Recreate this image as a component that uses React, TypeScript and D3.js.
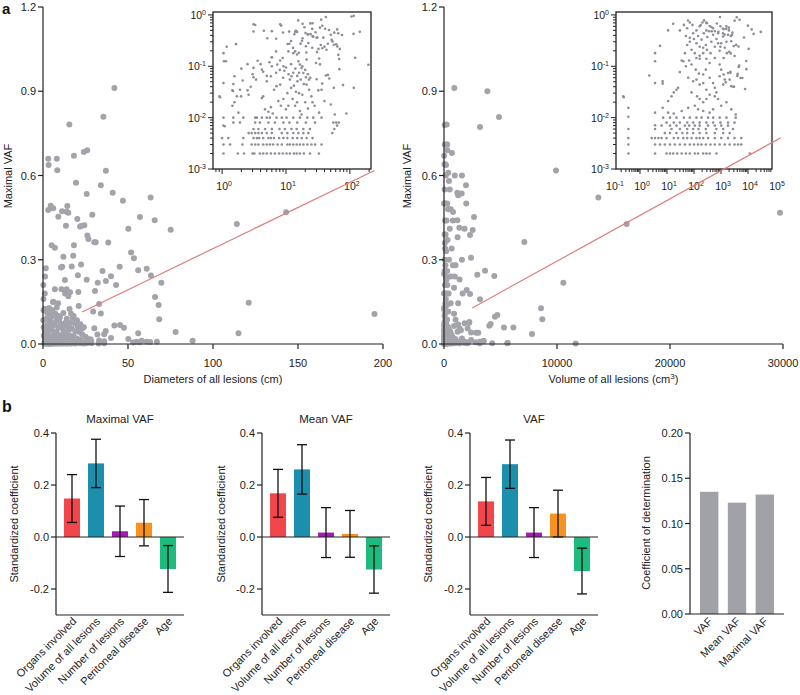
import React from "react";
import * as d3 from "d3";

const FONT = "'Liberation Sans', Arial, Helvetica, sans-serif";

// ---------- Panel a data: [diameter (cm), maximal VAF] ----------
const DIAMETER_VAF: [number, number][] = [
  [42, 0.912], [35.5, 0.809], [15.5, 0.782], [26, 0.69], [24, 0.684], [18.2, 0.67], [3.3, 0.637], [8.4, 0.619],
  [37, 0.617], [19.4, 0.574], [34, 0.565], [41, 0.539], [25.7, 0.534], [63.3, 0.522], [4.5, 0.492], [6, 0.483],
  [3.1, 0.477], [11.2, 0.473], [13.9, 0.471], [14.9, 0.467], [14.3, 0.491], [20.2, 0.445], [57, 0.452], [65.7, 0.441],
  [9, 0.453], [13.5, 0.421], [21.8, 0.418], [24.3, 0.423], [50.2, 0.41], [75.1, 0.407], [26.1, 0.386], [26.7, 0.374],
  [30.2, 0.362], [31, 0.362], [38.4, 0.361], [5.1, 0.352], [7, 0.343], [18.2, 0.352], [12, 0.311], [17.8, 0.314],
  [51.8, 0.326], [53.5, 0.305], [10.6, 0.272], [16.9, 0.276], [45.1, 0.275], [56, 0.263], [61, 0.268], [63.5, 0.244],
  [12.9, 0.228], [25.7, 0.229], [32.2, 0.218], [37, 0.224], [40, 0.241], [69.6, 0.218], [13.9, 0.195], [15.9, 0.184],
  [20.8, 0.185], [30.6, 0.189], [65.9, 0.167], [114, 0.427], [143, 0.469], [121, 0.147], [195, 0.107], [115, 0.038],
  [68, 0.139], [68.4, 0.088], [33, 0.142], [34, 0.109], [78, 0.043], [88, 0.012], [56, 0.038], [45.3, 0.068],
  [47.6, 0.058], [42, 0.066], [36.9, 0.046], [30.2, 0.056], [32, 0.034], [50.2, 0.018], [55, 0.008], [61, 0.008],
  [67, 0.008], [106, 0.93], [115, 0.96],
  [1.05, 0.18], [1.18, 0.24], [1.65, 0.27], [0.2, 0.085], [0.3, 0.12], [0.4, 0.06], [0.5, 0.03], [0.2, 0.21],
  [0.3, 0.16], [6, 0.15], [7, 0.195], [11.3, 0.275], [20.5, 0.245], [22.4, 0.283], [1.07, 0.125], [1.15, 0.125],
  [3.1, 0.66], [8.1, 0.66], [29, 0.46], [22.5, 0.42], [47, 0.51], [35, 0.26], [43, 0.21],
  // 0.002 row
  [1.05, 0.002], [1.76, 0.002], [2.2, 0.002], [3, 0.002], [3.2, 0.002], [3.9, 0.002], [4.4, 0.002], [5, 0.002],
  [5.8, 0.002], [6.7, 0.002], [7.8, 0.002], [8.9, 0.002], [10.2, 0.002], [11.5, 0.002], [13.3, 0.002], [14.7, 0.002],
  [16.5, 0.002], [19, 0.002], [23.7, 0.002], [32.7, 0.002],
  // 0.003 row
  [1.05, 0.003], [1.33, 0.003], [2.08, 0.003], [2.9, 0.003], [3.3, 0.003], [3.7, 0.003], [4.4, 0.003], [5, 0.003],
  [5.6, 0.003], [6.3, 0.003], [7.4, 0.003], [8.6, 0.003], [10.5, 0.003], [11.5, 0.003], [13, 0.003], [14.7, 0.003],
  [16.5, 0.003], [18.7, 0.003], [21.6, 0.003], [25, 0.003], [28.5, 0.003], [36, 0.003],
  // 0.004 row
  [1, 0.004], [1.25, 0.004], [2.15, 0.004], [3.1, 0.004], [3.5, 0.004], [3.8, 0.004], [4.4, 0.004], [5.3, 0.004],
  [5.8, 0.004], [6.5, 0.004], [7.8, 0.004], [9.1, 0.004], [10.5, 0.004], [12.7, 0.004], [15, 0.004], [17.6, 0.004],
  [21, 0.004], [26, 0.004],
  // 0.005 row
  [2.6, 0.005], [2.9, 0.005], [3.3, 0.005], [3.7, 0.005], [4.2, 0.005], [5, 0.005], [6, 0.005], [8.6, 0.005],
  [10.5, 0.005], [13, 0.005], [15.6, 0.005], [18.7, 0.005], [22.4, 0.005], [53, 0.005],
  // 0.006 row
  [3.1, 0.006], [3.7, 0.006], [4.7, 0.006], [6, 0.006], [7.9, 0.006], [9.6, 0.006], [12.2, 0.006], [14.7, 0.006],
  [18.7, 0.006], [23.7, 0.006], [57, 0.006],
  // 0.007-0.008 rows
  [1.05, 0.007], [1.1, 0.0068], [63, 0.007], [1.5, 0.008], [1.9, 0.008], [3.3, 0.008], [3.9, 0.008], [5.3, 0.008],
  [6.7, 0.008], [9.1, 0.008], [11.3, 0.008], [15, 0.008], [20.5, 0.008], [28.4, 0.008],
  // 0.01 row
  [1.05, 0.01], [1.5, 0.01], [2.15, 0.01], [3.3, 0.01], [3.5, 0.01], [4.2, 0.01], [5, 0.01], [5.6, 0.01],
  [7.1, 0.01], [8.6, 0.01], [10.2, 0.01], [13, 0.01], [16.5, 0.01], [21.6, 0.01], [26.7, 0.01], [36, 0.01],
  // scattered 0.01 - 0.15
  [1.05, 0.047], [1.56, 0.064], [1.45, 0.017], [1.56, 0.02], [1.7, 0.026], [1.8, 0.0125], [1.98, 0.026], [2.1, 0.053],
  [2.5, 0.034], [2.6, 0.028], [1.9, 0.035], [3.1, 0.093], [3.1, 0.061], [3.4, 0.055], [3.6, 0.128], [4.2, 0.086],
  [4.4, 0.078], [5, 0.051], [5.8, 0.064], [4.2, 0.024], [4.4, 0.026], [4.7, 0.0145], [5.3, 0.013], [5.8, 0.016],
  [6.2, 0.012], [7.1, 0.041], [8.1, 0.044], [7.3, 0.108], [8.1, 0.13], [8.9, 0.145], [9.1, 0.1], [9.4, 0.082],
  [7.6, 0.021], [8.3, 0.017], [9.1, 0.023], [10, 0.0145], [10.9, 0.017], [15.6, 0.125], [11.5, 0.055], [12.2, 0.064],
  [13.3, 0.042], [14.3, 0.032], [15.1, 0.051], [12.7, 0.023], [13.9, 0.017], [14.9, 0.02], [16.5, 0.0135], [17.5, 0.0115],
  [16.5, 0.108], [17.5, 0.093], [18.7, 0.074], [20.5, 0.061], [21, 0.044], [22.9, 0.055], [21, 0.135], [29.5, 0.116],
  [25, 0.026], [28, 0.017], [0.91, 0.026], [0.93, 0.025], [1.45, 0.034], [1.48, 0.033], [33, 0.0125], [40, 0.021],
  [58, 0.0115], [36, 0.035], [6, 0.15], [10.9, 0.195], [13, 0.18], [14.9, 0.17], [2.5, 0.11], [5.5, 0.12],
  [2, 0.09], [4, 0.11], [6, 0.1], [8, 0.085], [10, 0.095], [12, 0.11], [14, 0.09], [16, 0.075], [18, 0.1],
  [20, 0.085], [22, 0.07], [24, 0.06], [3, 0.07], [5, 0.065], [7, 0.075], [9, 0.06], [11, 0.07], [13, 0.075],
  [15, 0.065], [17, 0.055], [19, 0.045], [23, 0.035], [26, 0.02], [1.5, 0.045], [2.8, 0.04], [6.5, 0.035],
  [10.5, 0.03], [12, 0.038], [16, 0.03], [18, 0.028], [20, 0.02], [22, 0.015],
];

// ---------- Panel a data: [volume (cm3), maximal VAF] ----------
const VOLUME_VAF: [number, number][] = [
  [915, 0.912], [3835, 0.9], [4868, 0.808], [3186, 0.773], [9912, 0.618], [13659, 0.522], [1947, 0.565], [2655, 0.452],
  [2537, 0.406], [2301, 0.388], [16166, 0.427], [29736, 0.467], [7110, 0.363], [2390, 0.307], [10561, 0.218], [3629, 0.261],
  [4455, 0.242], [2950, 0.247], [2006, 0.192], [2301, 0.178], [3186, 0.159], [4513, 0.097], [4720, 0.103], [8584, 0.127],
  [8702, 0.088], [5310, 0.059], [6136, 0.059], [7788, 0.036], [4012, 0.065], [4130, 0.071], [3038, 0.04], [2242, 0.078],
  [11652, 0.002], [1564, 0.536], [1180, 0.539], [1357, 0.414], [1180, 0.441], [2832, 0.04], [2212, 0.075],
  // upper points near the axis
  [11, 0.5], [17, 0.67], [30, 0.5], [42, 0.64], [56, 0.55], [70, 0.71], [88, 0.64], [123, 0.5], [162, 0.6], [205, 0.71],
  [288, 0.71], [380, 0.61], [510, 0.55], [950, 0.6], [1250, 0.53], [1590, 0.6], [1970, 0.5], [60, 0.78], [300, 0.69],
  [700, 0.68], [450, 0.48], [800, 0.47], [236, 0.782], [177, 0.637],
  // mid cloud
  [35, 0.13], [46, 0.18], [56, 0.26], [70, 0.3], [81, 0.21], [100, 0.34], [123, 0.28], [141, 0.39], [162, 0.24],
  [190, 0.33], [230, 0.44], [275, 0.26], [310, 0.37], [360, 0.48], [440, 0.3], [510, 0.41], [590, 0.24], [680, 0.34],
  [780, 0.44], [890, 0.2], [1020, 0.28], [1200, 0.38], [1380, 0.23], [1590, 0.3], [1820, 0.41], [162, 0.14], [107, 0.18],
  [70, 0.36], [50, 0.39], [410, 0.18], [590, 0.145], [1250, 0.145], [1650, 0.18], [300, 0.21], [780, 0.28], [950, 0.24],
  [219, 0.23], [590, 0.48], [288, 0.5], [440, 0.58], [93, 0.44], [5.5, 0.25], [3.6, 0.18], [3.6, 0.125],
  // low left columns
  [0.37, 0.0155], [0.37, 0.0104], [0.37, 0.006], [0.37, 0.004], [0.37, 0.003], [0.37, 0.002], [0.24, 0.026], [0.25, 0.025],
  [3.6, 0.047], [3.6, 0.0125], [3.6, 0.0071], [3.6, 0.006], [3.6, 0.004], [3.6, 0.003], [3.6, 0.002], [2.2, 0.066],
  [6.9, 0.046], [6.9, 0.051],
  // 0.002 row
  [9.6, 0.002], [12.9, 0.002], [17, 0.002], [24, 0.002], [35, 0.002], [50, 0.002], [70, 0.002], [107, 0.002],
  [141, 0.002], [219, 0.002], [288, 0.002], [380, 0.002], [676, 0.002],
  // 0.003 row
  [5.5, 0.003], [8.3, 0.003], [12.9, 0.003], [19.5, 0.003], [30, 0.003], [46, 0.003], [70, 0.003], [100, 0.003],
  [141, 0.003], [190, 0.003], [275, 0.003], [407, 0.003], [589, 0.003], [891, 0.003], [1380, 0.003], [2090, 0.003],
  [3160, 0.003], [4270, 0.003], [5620, 0.003],
  // 0.004 row
  [2.7, 0.004], [4.8, 0.004], [6.3, 0.004], [9.6, 0.004], [17.8, 0.004], [25.7, 0.004], [40, 0.004], [56, 0.004],
  [81, 0.004], [123, 0.004], [162, 0.004], [219, 0.004], [331, 0.004], [589, 0.004], [1020, 0.004], [1820, 0.004],
  [3160, 0.004], [5620, 0.004],
  // 0.005 row
  [8.3, 0.005], [12.9, 0.005], [22.4, 0.005], [37, 0.005], [56, 0.005], [93, 0.005], [162, 0.005], [288, 0.005],
  [589, 0.005], [1200, 0.005], [2090, 0.005],
  // 0.006 row
  [14.7, 0.006], [30, 0.006], [56, 0.006], [93, 0.006], [146, 0.006], [275, 0.006], [676, 0.006], [1200, 0.006], [2800, 0.006],
  // 0.007 row
  [6.3, 0.007], [12.9, 0.007], [22.4, 0.007], [46, 0.007], [66, 0.007], [107, 0.007], [162, 0.007], [331, 0.007],
  [589, 0.007], [1020, 0.007], [1820, 0.007],
  // 0.008 row
  [9.6, 0.008], [17.8, 0.008], [30, 0.008], [56, 0.008], [93, 0.008], [162, 0.008], [288, 0.008], [510, 0.008],
  [950, 0.008], [1820, 0.008], [3160, 0.008],
  // 0.01 row
  [7.2, 0.01], [12.9, 0.01], [22.4, 0.01], [42, 0.01], [70, 0.01], [123, 0.01], [190, 0.01], [331, 0.01], [510, 0.01],
  [891, 0.01], [1590, 0.01], [3500, 0.01],
  // scattered 0.01 - 0.15
  [6.9, 0.0155], [11, 0.021], [14.7, 0.026], [17.8, 0.031], [22.4, 0.035], [25.7, 0.038], [11, 0.0125], [17.8, 0.012],
  [35, 0.0135], [61, 0.0155], [107, 0.017], [30, 0.077], [50, 0.1], [40, 0.125], [66, 0.13], [81, 0.108], [61, 0.06],
  [93, 0.051], [123, 0.055], [162, 0.044], [219, 0.069], [81, 0.031], [130, 0.026], [162, 0.023], [219, 0.02],
  [288, 0.023], [123, 0.145], [162, 0.16], [219, 0.18], [288, 0.14], [380, 0.116], [275, 0.086], [380, 0.06],
  [510, 0.047], [589, 0.038], [676, 0.031], [891, 0.064], [1200, 0.044], [1380, 0.055], [1820, 0.074], [2400, 0.041],
  [776, 0.023], [1020, 0.017], [1590, 0.02], [2400, 0.0145], [3500, 0.0115], [510, 0.0145], [380, 0.0125], [219, 0.0135],
  [141, 0.0145], [116, 0.086], [152, 0.072], [219, 0.047], [288, 0.035], [380, 0.028], [589, 0.026], [891, 0.108],
  [1020, 0.086], [1250, 0.069], [1500, 0.049], [2090, 0.055],
];

const VAF_TICKS = [0, 0.3, 0.6, 0.9, 1.2];
const DIAMETER_TICKS = [0, 50, 100, 150, 200];
const VOLUME_TICKS = [0, 10000, 20000, 30000];
const DIAMETER_FIT = { intercept: 0.0466, slope: 0.00293, from: 23, to: 195 };
const VOLUME_FIT = { intercept: 0.073, slope: 2.22e-5, from: 2500, to: 29800 };
const INSET_Y_EXPONENTS = [0, -1, -2, -3];
const DIAMETER_INSET_EXPONENTS = [0, 1, 2];
const VOLUME_INSET_EXPONENTS = [-1, 0, 1, 2, 3, 4, 5];

// ---------- Panel b data ----------
const PREDICTORS = ["Organs involved", "Volume of all lesions", "Number of lesions", "Peritoneal disease", "Age"];
const MAX_VAF_COEF = [0.148, 0.283, 0.022, 0.055, -0.123];
const MAX_VAF_ERR = [0.092, 0.093, 0.097, 0.089, 0.09];
const MEAN_VAF_COEF = [0.168, 0.26, 0.017, 0.012, -0.125];
const MEAN_VAF_ERR = [0.092, 0.095, 0.096, 0.09, 0.091];
const VAF_COEF = [0.137, 0.28, 0.017, 0.09, -0.131];
const VAF_ERR = [0.092, 0.093, 0.096, 0.09, 0.088];
const COEF_TICKS = [-0.2, 0, 0.2, 0.4];
const R2_LABELS = ["VAF", "Mean VAF", "Maximal VAF"];
const R2_VALUES = [0.135, 0.123, 0.132];
const R2_TICKS = [0, 0.05, 0.1, 0.15, 0.2];

const BAR_COLORS = ["#f2464b", "#1b8fab", "#a619b5", "#f7921e", "#1dbb7d"];
const AXIS = "#222";
const DOT = "#a3a3ab";
const INSET_DOT = "#8d8d95";

function logTicks(d0: number, d1: number) {
  const out: { v: number; major: boolean }[] = [];
  for (let e = Math.floor(Math.log10(d0)); e <= Math.ceil(Math.log10(d1)); e++) {
    for (let m = 1; m <= 9; m++) {
      const v = m * Math.pow(10, e);
      if (v >= d0 * 0.999 && v <= d1 * 1.001) out.push({ v, major: m === 1 });
    }
  }
  return out;
}

function Inset({ points, xs, ys, xExps }: any) {
  const [bx0, bx1] = xs.range();
  const [by1, by0] = ys.range();
  const [xd0, xd1] = xs.domain();
  const [yd0, yd1] = ys.domain();
  const pts = points.filter((p: number[]) => p[0] >= xd0 && p[0] <= xd1 && p[1] >= yd0 && p[1] <= yd1);
  return (
    <g>
      <rect x={bx0} y={by0} width={bx1 - bx0} height={by1 - by0} fill="white" stroke={AXIS} strokeWidth={1.3} />
      {pts.map((p: number[], i: number) => (
        <circle key={i} cx={xs(p[0])} cy={ys(p[1])} r={1.3} fill={INSET_DOT} />
      ))}
      {logTicks(yd0, yd1).map((t, i) => (
        <line key={"yt" + i} x1={bx0} x2={bx0 - (t.major ? 5 : 3)} y1={ys(t.v)} y2={ys(t.v)} stroke={AXIS} strokeWidth={1} />
      ))}
      {INSET_Y_EXPONENTS.map((e) => (
        <text key={"yl" + e} x={bx0 - 7} y={ys(Math.pow(10, e)) + 4} textAnchor="end" fontSize={10.5} fill="#222">
          10<tspan dy={-4} fontSize={7}>{e}</tspan>
        </text>
      ))}
      {logTicks(xd0, xd1).map((t, i) => (
        <line key={"xt" + i} y1={by1} y2={by1 + (t.major ? 5 : 3)} x1={xs(t.v)} x2={xs(t.v)} stroke={AXIS} strokeWidth={1} />
      ))}
      {xExps.map((e: number) => (
        <text key={"xl" + e} x={xs(Math.pow(10, e)) + 2} y={by1 + 21} textAnchor="middle" fontSize={10.5} fill="#222">
          10<tspan dy={-4} fontSize={7}>{e}</tspan>
        </text>
      ))}
    </g>
  );
}

function ScatterPanel({ points, x, xTicks, xTitle, fit, yTitleX, inset }: any) {
  const y = d3.scaleLinear().domain([0, 1.2]).range([344, 7]);
  const [x0, x1] = x.range();
  const [dx0, dx1] = x.domain();
  const pts = points.filter((p: number[]) => p[0] >= dx0 && p[0] <= dx1);
  const fitLine = d3.line<number>().x((v) => x(v)).y((v) => y(fit.intercept + fit.slope * v));
  return (
    <g>
      {pts.map((p: number[], i: number) => (
        <circle key={i} cx={x(p[0])} cy={y(p[1])} r={3} fill={DOT} />
      ))}
      {inset}
      <path d={fitLine([fit.from, fit.to]) || ""} stroke="#e07c7c" strokeWidth={1.2} fill="none" />
      <line x1={x0} x2={x0} y1={y(0)} y2={y(1.2)} stroke={AXIS} strokeWidth={1.2} />
      <line x1={x0} x2={x1} y1={y(0)} y2={y(0)} stroke={AXIS} strokeWidth={1.2} />
      {VAF_TICKS.map((t) => (
        <g key={"y" + t}>
          <line x1={x0 - 5} x2={x0} y1={y(t)} y2={y(t)} stroke={AXIS} strokeWidth={1.2} />
          <text x={x0 - 7} y={y(t) + 4} textAnchor="end" fontSize={11} fill="#222">{t.toFixed(1)}</text>
        </g>
      ))}
      {xTicks.map((t: number) => (
        <g key={"x" + t}>
          <line x1={x(t)} x2={x(t)} y1={y(0)} y2={y(0) + 5} stroke={AXIS} strokeWidth={1.2} />
          <text x={x(t)} y={367} textAnchor="middle" fontSize={11} fill="#222">{t}</text>
        </g>
      ))}
      <text x={(x0 + x1) / 2} y={383} textAnchor="middle" fontSize={11} fill="#222">{xTitle}</text>
      <text transform={`translate(${yTitleX},176) rotate(-90)`} textAnchor="middle" fontSize={11} fill="#222">Maximal VAF</text>
    </g>
  );
}

function CoefPanel({ x0, title, coefs, errs, yTitleX }: any) {
  const xb = d3.scaleBand().domain(PREDICTORS).range([x0, x0 + 128]).paddingInner(1 / 3).paddingOuter(1 / 3);
  const y = d3.scaleLinear().domain([-0.3, 0.4]).range([615, 433]);
  const [r0, r1] = xb.range();
  return (
    <g>
      <text x={(r0 + r1) / 2} y={423} textAnchor="middle" fontSize={11.5} fill="#222">{title}</text>
      {PREDICTORS.map((c, i) => {
        const v = coefs[i];
        const e = errs[i];
        const bx = xb(c)!;
        const cx = bx + xb.bandwidth() / 2;
        return (
          <g key={c}>
            <rect x={bx} width={xb.bandwidth()} y={y(Math.max(0, v))} height={Math.abs(y(v) - y(0))} fill={BAR_COLORS[i]} />
            <line x1={cx} x2={cx} y1={y(v - e)} y2={y(v + e)} stroke="#111" strokeWidth={1.3} />
            <line x1={cx - 5} x2={cx + 5} y1={y(v - e)} y2={y(v - e)} stroke="#111" strokeWidth={1.3} />
            <line x1={cx - 5} x2={cx + 5} y1={y(v + e)} y2={y(v + e)} stroke="#111" strokeWidth={1.3} />
            <text transform={`translate(${cx + 5},${622}) rotate(-45)`} textAnchor="end" fontSize={11} fill="#222">{c}</text>
          </g>
        );
      })}
      <line x1={r0} x2={r1} y1={y(0)} y2={y(0)} stroke={AXIS} strokeWidth={1.2} />
      <line x1={r0} x2={r1} y1={y(-0.3)} y2={y(-0.3)} stroke={AXIS} strokeWidth={1.2} />
      <line x1={r0} x2={r0} y1={y(-0.3)} y2={y(0.4)} stroke={AXIS} strokeWidth={1.2} />
      {COEF_TICKS.map((t) => (
        <g key={t}>
          <line x1={r0 - 5} x2={r0} y1={y(t)} y2={y(t)} stroke={AXIS} strokeWidth={1.2} />
          <text x={r0 - 7} y={y(t) + 4} textAnchor="end" fontSize={11} fill="#222">{t.toFixed(1)}</text>
        </g>
      ))}
      <text transform={`translate(${yTitleX},524) rotate(-90)`} textAnchor="middle" fontSize={11} fill="#222">Standardized coefficient</text>
    </g>
  );
}

function R2Panel() {
  const xb = d3.scaleBand().domain(R2_LABELS).range([690, 784]).paddingInner(0.34).paddingOuter(0.36);
  const y = d3.scaleLinear().domain([0, 0.2]).range([614, 433]);
  const [r0, r1] = xb.range();
  return (
    <g>
      {R2_LABELS.map((c, i) => {
        const bx = xb(c)!;
        const cx = bx + xb.bandwidth() / 2;
        return (
          <g key={c}>
            <rect x={bx} width={xb.bandwidth()} y={y(R2_VALUES[i])} height={y(0) - y(R2_VALUES[i])} fill="#a1a1a8" />
            <text transform={`translate(${cx + 4},${622}) rotate(-45)`} textAnchor="end" fontSize={11} fill="#222">{c}</text>
          </g>
        );
      })}
      <line x1={r0} x2={r1} y1={y(0)} y2={y(0)} stroke={AXIS} strokeWidth={1.2} />
      <line x1={r0} x2={r0} y1={y(0)} y2={y(0.2)} stroke={AXIS} strokeWidth={1.2} />
      {R2_TICKS.map((t) => (
        <g key={t}>
          <line x1={r0 - 5} x2={r0} y1={y(t)} y2={y(t)} stroke={AXIS} strokeWidth={1.2} />
          <text x={r0 - 7} y={y(t) + 4} textAnchor="end" fontSize={11} fill="#222">{t.toFixed(2)}</text>
        </g>
      ))}
      <text transform={`translate(650,523) rotate(-90)`} textAnchor="middle" fontSize={11} fill="#222">Coefficient of determination</text>
    </g>
  );
}

export default function App() {
  const xDiam = d3.scaleLinear().domain([0, 200]).range([43, 383]);
  const xVol = d3.scaleLinear().domain([0, 30000]).range([444, 783]);
  const yInset = d3.scaleLog().domain([1e-3, 1.14]).range([169, 12]);
  const xDiamInset = d3.scaleLog().domain([0.72, 214]).range([213, 371]);
  const xVolInset = d3.scaleLog().domain([0.129, 77400]).range([616, 772]);
  return (
    <svg width={800} height={695} style={{ position: "absolute", left: 0, top: 0, background: "white" }} fontFamily={FONT}>
      <rect width={800} height={695} fill="white" />
      <text x={2} y={14} fontSize={15} fontWeight="bold" fill="#111">a</text>
      <text x={2} y={412} fontSize={16} fontWeight="bold" fill="#111">b</text>
      <ScatterPanel
        points={DIAMETER_VAF}
        x={xDiam}
        xTicks={DIAMETER_TICKS}
        xTitle="Diameters of all lesions (cm)"
        fit={DIAMETER_FIT}
        yTitleX={12}
        inset={<Inset points={DIAMETER_VAF} xs={xDiamInset} ys={yInset} xExps={DIAMETER_INSET_EXPONENTS} />}
      />
      <ScatterPanel
        points={VOLUME_VAF}
        x={xVol}
        xTicks={VOLUME_TICKS}
        xTitle={<>Volume of all lesions (cm<tspan dy={-4} fontSize={8}>3</tspan><tspan dy={4}>)</tspan></>}
        fit={VOLUME_FIT}
        yTitleX={411}
        inset={<Inset points={VOLUME_VAF} xs={xVolInset} ys={yInset} xExps={VOLUME_INSET_EXPONENTS} />}
      />
      <CoefPanel x0={56} title="Maximal VAF" coefs={MAX_VAF_COEF} errs={MAX_VAF_ERR} yTitleX={18} />
      <CoefPanel x0={262} title="Mean VAF" coefs={MEAN_VAF_COEF} errs={MEAN_VAF_ERR} yTitleX={225} />
      <CoefPanel x0={470} title="VAF" coefs={VAF_COEF} errs={VAF_ERR} yTitleX={432} />
      <R2Panel />
    </svg>
  );
}
